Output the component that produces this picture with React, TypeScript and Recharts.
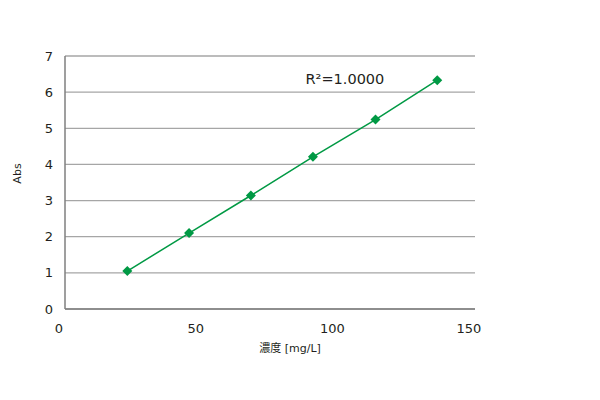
import React from 'react';
import { ScatterChart, Scatter, XAxis, YAxis, CartesianGrid, ReferenceDot } from 'recharts';

const concentration = [22.8, 45.4, 68.0, 90.7, 113.6, 136.2];
const absorbance = [1.05, 2.1, 3.14, 4.21, 5.24, 6.33];
const xTicks = [0, 50, 100, 150];
const yTicks = [0, 1, 2, 3, 4, 5, 6, 7];
const xLabel = '濃度 [mg/L]';
const yLabel = 'Abs';
const r2Text = 'R²=1.0000';

const data = concentration.map((x, i) => ({ x, y: absorbance[i] }));

const FONT = '"DejaVu Sans", "Noto Sans CJK JP", sans-serif';
const GREEN = '#009944';
const BORDER = '#7f7f7f';
const TEXT = '#231f20';

const Diamond = (props: any) => {
  const { cx, cy } = props;
  const s = 5;
  return <path d={`M${cx},${cy - s}L${cx + s},${cy}L${cx},${cy + s}L${cx - s},${cy}Z`} fill={GREEN} />;
};

export default function App() {
  return (
    <div style={{ position: 'absolute', left: 0, top: 0, background: '#fff' }}>
      <ScatterChart width={600} height={400} margin={{ top: 56, right: 125, bottom: 41, left: 0 }}>
        <CartesianGrid vertical={false} stroke="#a6a6a6" strokeWidth={1.3} />
        <XAxis
          type="number"
          dataKey="x"
          domain={[0, 150]}
          ticks={xTicks}
          height={50}
          tickLine={false}
          tickSize={6}
          tickMargin={9}
          axisLine={{ stroke: BORDER, strokeWidth: 1.5 }}
          tick={{ fill: TEXT, fontSize: 13, fontFamily: FONT, dx: -6 }}
          label={{
            content: (p: any) => {
              const vb = p.viewBox;
              return (
                <text x={vb.x + vb.width / 2 + 20} y={vb.y + 43} textAnchor="middle" fill={TEXT} fontSize={11} fontFamily={FONT}>
                  {xLabel}
                </text>
              );
            },
          }}
        />
        <XAxis xAxisId="top" orientation="top" type="number" domain={[0, 150]} height={0} tick={false} tickLine={false} axisLine={{ stroke: BORDER, strokeWidth: 1.5 }} />
        <YAxis
          type="number"
          dataKey="y"
          domain={[0, 7]}
          ticks={yTicks}
          width={65}
          tickLine={false}
          tickSize={6}
          tickMargin={6}
          axisLine={{ stroke: BORDER, strokeWidth: 1.5 }}
          tick={{ fill: TEXT, fontSize: 13, fontFamily: FONT }}
          label={{
            content: (p: any) => {
              const vb = p.viewBox;
              const cy = vb.y + vb.height / 2 - 9;
              return (
                <text x={17} y={cy} transform={`rotate(-90 17 ${cy})`} textAnchor="middle" dominantBaseline="central" fill={TEXT} fontSize={11} fontFamily={FONT}>
                  {yLabel}
                </text>
              );
            },
          }}
        />
        <YAxis yAxisId="right" orientation="right" type="number" domain={[0, 7]} width={0} tick={false} tickLine={false} axisLine={{ stroke: BORDER, strokeWidth: 1.5 }} />
        <Scatter
          data={data}
          fill={GREEN}
          line={{ stroke: GREEN, strokeWidth: 1.5 }}
          lineType="joint"
          shape={<Diamond />}
          isAnimationActive={false}
        />
        <ReferenceDot
          x={88}
          y={6.38}
          r={0}
          stroke="none"
          fill="none"
          label={{ value: r2Text, position: 'right', offset: 0, fill: TEXT, fontSize: 14.5, fontFamily: FONT }}
        />
      </ScatterChart>
    </div>
  );
}
